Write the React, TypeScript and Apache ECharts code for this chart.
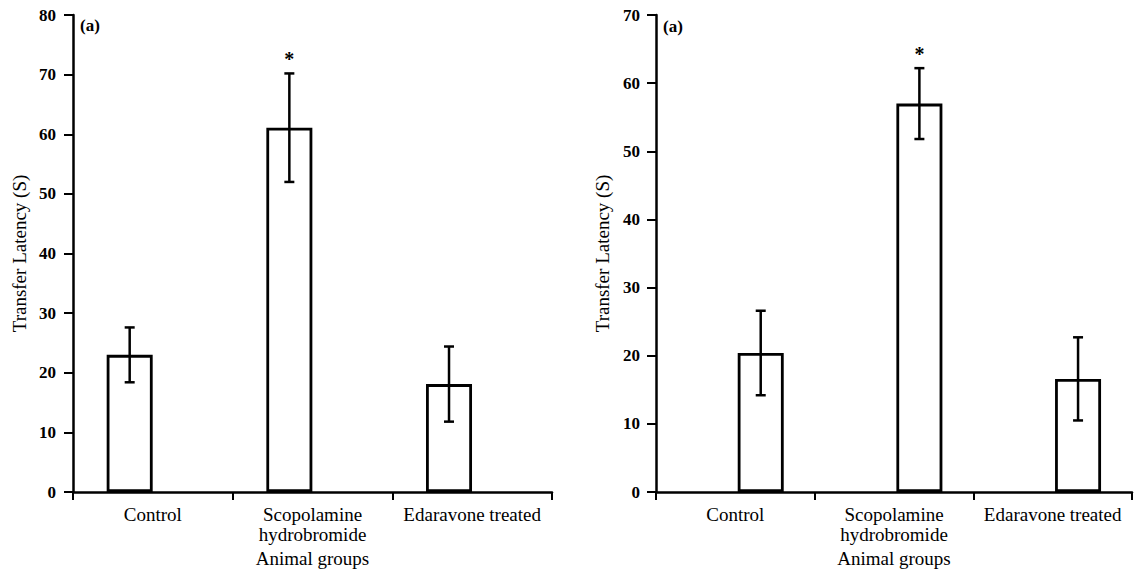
import React, { useEffect, useRef } from "react";
import * as echarts from "echarts";

const categories = ["Control", "Scopolamine\nhydrobromide", "Edaravone treated"];
const leftMeans = [23.0, 61.1, 18.1];
const leftErrors = [4.6, 9.1, 6.3];
const rightMeans = [20.4, 57.0, 16.6];
const rightErrors = [6.2, 5.2, 6.1];
const significant = [0, 1, 0];
const leftMax = 80;
const rightMax = 70;
const yTitle = "Transfer Latency (S)";
const xTitle = "Animal groups";
const panelLabel = "(a)";

const FONT = "Liberation Serif";

function barData(means: number[]) {
  return means.map((m, i) => [i, m]);
}
function errData(means: number[], errs: number[]) {
  return means.map((m, i) => [i, m - errs[i], m + errs[i], significant[i]]);
}

const renderErr = (params: any, api: any) => {
  const x = api.value(0);
  const lo = api.value(1);
  const hi = api.value(2);
  const star = api.value(3);
  const top = api.coord([x, hi]);
  const bot = api.coord([x, lo]);
  const half = 5;
  const st = { stroke: "#000", lineWidth: 2.5 };
  const children: any[] = [
    { type: "line", shape: { x1: top[0], y1: top[1], x2: bot[0], y2: bot[1] }, style: st },
    { type: "line", shape: { x1: top[0] - half, y1: top[1], x2: top[0] + half, y2: top[1] }, style: st },
    { type: "line", shape: { x1: bot[0] - half, y1: bot[1], x2: bot[0] + half, y2: bot[1] }, style: st },
  ];
  if (star) {
    children.push({
      type: "text",
      x: top[0],
      y: top[1] - 4,
      style: {
        text: "*",
        fill: "#000",
        font: `bold 20px "${FONT}"`,
        align: "center",
        verticalAlign: "bottom",
      },
    });
  }
  return { type: "group", children };
};

function catAxis(gridIndex: number) {
  return {
    type: "category",
    gridIndex,
    data: categories,
    boundaryGap: true,
    axisLine: { show: true, onZero: false, lineStyle: { color: "#000", width: 2.5 } },
    axisTick: { show: true, length: 8, lineStyle: { color: "#000", width: 2 } },
    axisLabel: {
      interval: 0,
      color: "#000",
      fontFamily: FONT,
      fontSize: 19,
      lineHeight: 20,
      margin: 12,
    },
    name: xTitle,
    nameLocation: "middle",
    nameGap: 53,
    nameTextStyle: { color: "#000", fontFamily: FONT, fontSize: 19 },
    splitLine: { show: false },
  };
}

function hiddenAxis(gridIndex: number, offset: number) {
  return {
    type: "value",
    gridIndex,
    show: false,
    min: -offset,
    max: 3 - offset,
    axisLine: { onZero: false },
    splitLine: { show: false },
  };
}

function valAxis(gridIndex: number, max: number, labelMargin: number) {
  return {
    type: "value",
    gridIndex,
    min: 0,
    max,
    interval: 10,
    axisLine: { show: true, onZero: false, lineStyle: { color: "#000", width: 2.5 } },
    axisTick: { show: true, length: 9, lineStyle: { color: "#000", width: 2 } },
    axisLabel: {
      color: "#000",
      fontFamily: FONT,
      fontSize: 17,
      fontWeight: "bold",
      margin: labelMargin,
    },
    splitLine: { show: false },
    name: yTitle,
    nameLocation: "middle",
    nameRotate: 90,
    nameGap: 44,
    nameTextStyle: { color: "#000", fontFamily: FONT, fontSize: 19 },
  };
}

export default function App() {
  const ref = useRef<HTMLDivElement>(null);
  useEffect(() => {
    if (!ref.current) return;
    const chart = echarts.init(ref.current, undefined, { renderer: "svg" });
    const barStyle = { color: "#fff", borderColor: "#000", borderWidth: 2.8 };
    chart.setOption({
      animation: false,
      backgroundColor: "#fff",
      grid: [
        { left: 73, top: 15, width: 479, height: 477 },
        { left: 656, top: 15, width: 476, height: 477 },
      ],
      xAxis: [catAxis(0), hiddenAxis(0, 0.355), catAxis(1), hiddenAxis(1, 0.66)],
      yAxis: [valAxis(0, leftMax, 17), valAxis(1, rightMax, 16)],
      graphic: [
        {
          type: "text",
          left: 80,
          top: 17,
          style: { text: panelLabel, fill: "#000", font: `bold 17px "${FONT}"` },
        },
        {
          type: "text",
          left: 663,
          top: 18,
          style: { text: panelLabel, fill: "#000", font: `bold 17px "${FONT}"` },
        },
      ],
      series: [
        {
          type: "bar",
          xAxisIndex: 1,
          yAxisIndex: 0,
          data: barData(leftMeans),
          barWidth: 46,
          itemStyle: barStyle,
          silent: true,
        },
        {
          type: "custom",
          xAxisIndex: 1,
          yAxisIndex: 0,
          data: errData(leftMeans, leftErrors),
          renderItem: renderErr,
          z: 5,
          silent: true,
        },
        {
          type: "bar",
          xAxisIndex: 3,
          yAxisIndex: 1,
          data: barData(rightMeans),
          barWidth: 46,
          itemStyle: barStyle,
          silent: true,
        },
        {
          type: "custom",
          xAxisIndex: 3,
          yAxisIndex: 1,
          data: errData(rightMeans, rightErrors),
          renderItem: renderErr,
          z: 5,
          silent: true,
        },
      ],
    });
    return () => chart.dispose();
  }, []);
  return (
    <div
      ref={ref}
      style={{ position: "absolute", left: 0, top: 0, width: 1135, height: 577 }}
    />
  );
}
